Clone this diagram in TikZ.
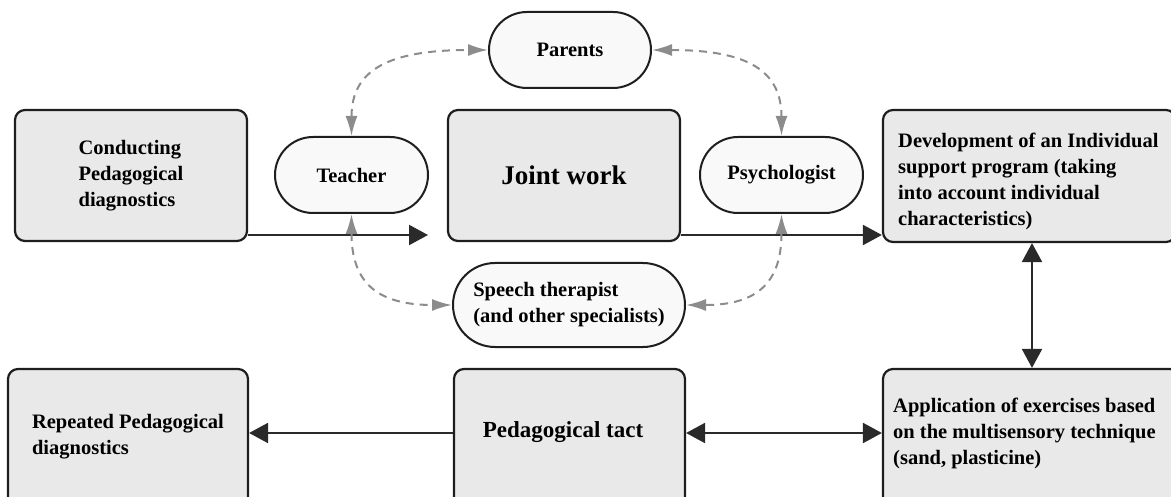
\documentclass[tikz,border=0pt]{standalone}
\usepackage{fontspec}
\setmainfont{Liberation Serif}
\usetikzlibrary{arrows.meta,calc}
\definecolor{boxgray}{HTML}{E9E9E9}
\definecolor{pillwhite}{HTML}{F9F9F9}
\definecolor{dashgray}{HTML}{8C8C8C}
\definecolor{edgeblk}{HTML}{1E1E1E}
\definecolor{lineblk}{HTML}{2A2A2A}
\tikzset{
  basefont/.style={font=\fontsize{20.5}{26}\selectfont\bfseries, text=black},
  box/.style={basefont, draw=edgeblk, line width=2.2pt, fill=boxgray, rounded corners=10pt, inner sep=0pt, align=left},
  pill/.style={basefont, draw=edgeblk, line width=2pt, fill=pillwhite, rounded corners=38pt, inner sep=0pt, align=left},
  txt/.style={basefont, align=left, inner sep=0pt},
  dsh/.style={draw=dashgray, line width=2pt, dash pattern=on 8pt off 6pt,
    {Latex[length=20pt,width=12pt]}-{Latex[length=20pt,width=12pt]}},
  blk/.style={draw=lineblk, line width=2.2pt, -{Triangle[length=19pt,width=20pt]}},
  blkd/.style={draw=lineblk, line width=2.2pt, {Triangle[length=19pt,width=20pt]}-{Triangle[length=19pt,width=20pt]}},
}
\begin{document}
\begin{tikzpicture}[x=1pt,y=-1pt]
\useasboundingbox (0,0) rectangle (1171,497);
\clip (0,0) rectangle (1171,497);

% top row
\node[box, minimum width=232pt, minimum height=131pt] (cond) at (131,175.5) {Conducting\\Pedagogical\\diagnostics};
\node[pill, minimum width=153pt, minimum height=76pt] (teacher) at (351.5,175) {Teacher};
\node[box, minimum width=232pt, minimum height=131pt, font=\fontsize{27}{32}\selectfont\bfseries] (joint) at (564,175.5) {Joint work};
\node[pill, minimum width=162pt, minimum height=76pt] (parents) at (570,50) {Parents};
\node[pill, minimum width=163pt, minimum height=76pt] (psych) at (781.5,175) {Psychologist};
\node[box, minimum width=293pt, minimum height=132pt] (dev) at (1029.5,176) {};
\node[txt, anchor=west] (devt) at (898,181) {Development of an Individual\\support program (taking\\into account individual\\characteristics)};
\node[pill, minimum width=232pt, minimum height=84pt, rounded corners=42pt] (speech) at (569,305) {Speech therapist\\(and other specialists)};

% bottom row
\node[box, minimum width=240pt, minimum height=151pt] (rep) at (128,444.5) {};
\node[txt] (rept) at (128,437) {Repeated Pedagogical\\diagnostics};
\node[box, minimum width=231pt, minimum height=151pt] (ptact) at (569.5,444.5) {};
\node[txt, font=\fontsize{23}{28}\selectfont\bfseries] (ptactt) at (563,432) {Pedagogical tact};
\node[box, minimum width=297pt, minimum height=151pt] (app) at (1031.5,444.5) {};
\node[txt, anchor=west] (appt) at (893,433) {Application of exercises based\\on the multisensory technique\\(sand, plasticine)};

% solid connectors
\coordinate (a1) at (428,235);
\coordinate (vx) at (1032,0);
\coordinate (hy) at (0,433);
\draw[blk] (cond.east |- a1) -- (a1);
\draw[blk] (joint.east |- a1) -- (dev.west |- a1);
\draw[blkd] (dev.south -| vx) -- (app.north -| vx);
\draw[blk] (ptact.west |- hy) -- (rep.east |- hy);
\draw[blkd] (ptact.east |- hy) -- (app.west |- hy);

% dashed connectors
\coordinate (k1) at (teacher.north |- parents.west);
\coordinate (k2) at (psych.north |- parents.east);
\coordinate (k3) at (teacher.south |- speech.west);
\coordinate (k4) at (psych.south |- speech.east);
\draw[dsh] (teacher.north) .. controls ($(teacher.north)!0.75!(k1)$) and ($(parents.west)!0.75!(k1)$) .. (parents.west);
\draw[dsh] (parents.east) .. controls ($(parents.east)!0.75!(k2)$) and ($(psych.north)!0.75!(k2)$) .. (psych.north);
\draw[dsh] (teacher.south) .. controls ($(teacher.south)!0.75!(k3)$) and ($(speech.west)!0.75!(k3)$) .. (speech.west);
\draw[dsh] (psych.south) .. controls ($(psych.south)!0.75!(k4)$) and ($(speech.east)!0.75!(k4)$) .. (speech.east);
\end{tikzpicture}
\end{document}
